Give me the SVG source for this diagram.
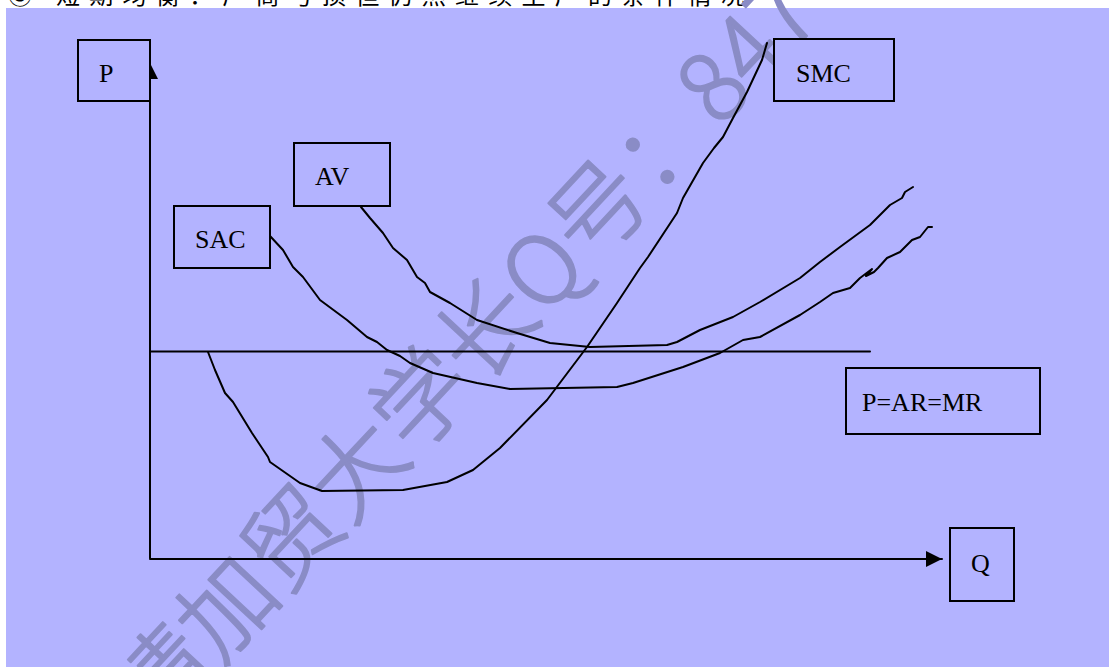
<svg xmlns="http://www.w3.org/2000/svg" width="1109" height="667" viewBox="0 0 1109 667">
<style>
.box{fill:#b3b3ff;stroke:#000;stroke-width:2}
.lbl{font-family:"Liberation Serif","Times New Roman",serif;font-size:26px;fill:#000}
.ln{fill:none;stroke:#000;stroke-width:2;stroke-linejoin:round;stroke-linecap:round}
.wm{font-family:"Noto Sans CJK SC","Noto Sans",sans-serif;font-size:95px;font-weight:300;fill:#8a8cc6;stroke:#8a8cc6;stroke-width:2;stroke-linejoin:round}
</style>
<defs>
<marker id="ah" viewBox="0 0 10 10" refX="10" refY="5" markerWidth="16" markerHeight="16" markerUnits="userSpaceOnUse" orient="auto">
<path d="M0,0 L10,5 L0,10 Z" fill="#000"/>
</marker>
</defs>
<rect x="0" y="0" width="1109" height="667" fill="#fff"/>
<text x="8" y="4" font-family="'Noto Sans CJK SC',sans-serif" font-size="24" fill="#000" textLength="737" lengthAdjust="spacing">③ 短期均衡：厂商亏损但仍然继续生产的条件情况</text>
<rect x="6" y="8" width="1103" height="659" fill="#b3b3ff"/>
<g id="watermark">
<text class="wm" transform="translate(155,735) rotate(-47)" x="0" y="0">请加贸大学长Q号：847</text>
</g>
<g id="connectors">
<line class="ln" x1="150" y1="558" x2="150" y2="63" marker-end="url(#ah)"/>
<line class="ln" x1="150" y1="559" x2="942" y2="559" marker-end="url(#ah)"/>
<line class="ln" x1="150" y1="351.5" x2="870" y2="351.5"/>
<path id="smc-curve" class="ln" d="M208,352 L215,370 L225,393 L233,402 L252,433 L268,457 L270,462 L300,483 L322,491 L403,490 L447,482 L473,470 L500,448 L547,400 L587,347 L617,303 L640,268 L648,257 L677,213 L683,198 L703,163 L714,148 L723,137 L733,118 L747,92 L762,60 L767,43"/>
<path id="av-curve" class="ln" d="M361,207 L370,218 L383,233 L393,248 L407,260 L417,277 L425,283 L430,292 L450,303 L477,320 L517,333 L550,343 L590,347 L667,345 L677,342 L700,330 L733,317 L760,302 L800,278 L820,262 L840,247 L870,225 L890,205 L902,198 L905,192 L913,187"/>
<path id="sac-curve" class="ln" d="M270,236 L283,250 L293,267 L303,277 L320,300 L347,320 L367,337 L377,342 L387,350 L400,356 L410,363 L433,373 L477,383 L510,389 L617,387 L633,383 L683,367 L720,353 L743,340 L760,337 L800,315 L820,302 L833,293 L850,288 L860,278 L872,269 L866,276 L874,272 L878,268 L887,258 L900,252 L912,240 L920,237 L928,227 L932,227"/>
</g>
<g id="node-P">
<rect class="box" x="78" y="40" width="72" height="61"/>
<text class="lbl" x="99" y="82">P</text>
</g>
<g id="node-SMC">
<rect class="box" x="774" y="39" width="120" height="62"/>
<text class="lbl" x="796" y="82">SMC</text>
</g>
<g id="node-AV">
<rect class="box" x="294" y="143" width="96" height="63"/>
<text class="lbl" x="315" y="185">AV</text>
</g>
<g id="node-SAC">
<rect class="box" x="174" y="206" width="96" height="62"/>
<text class="lbl" x="195" y="248">SAC</text>
</g>
<g id="node-PARMR">
<rect class="box" x="846" y="368" width="194" height="66"/>
<text class="lbl" x="862" y="411">P=AR=MR</text>
</g>
<g id="node-Q">
<rect class="box" x="950" y="528" width="64" height="73"/>
<text class="lbl" x="971" y="572">Q</text>
</g>
</svg>
